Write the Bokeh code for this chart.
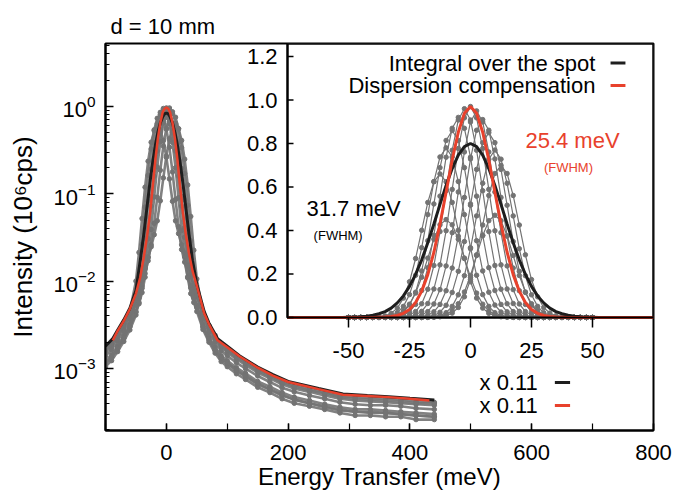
import math
from bokeh.plotting import figure
from bokeh.models import Range1d, LinearScale, Label, SingleIntervalTicker, LogTicker
from bokeh.core.properties import value
from bokeh.embed import file_html
from bokeh.resources import INLINE

FONT = "Liberation Sans"
GRAY = "#737373"
RED = "#e8412c"
BLACK = "#1e1e1e"

# ---------------- main panel data (log scale) ----------------
main_x_ticks_interval = 200
E_gray = [-100, -90, -80, -70, -60, -50, -45, -40, -35, -30, -25, -20, -15, -10, -5, 0, 5, 10,
          15, 20, 25, 30, 35, 40, 45, 50, 60, 70, 80, 90, 100, 115, 130, 150, 170, 190, 210,
          235, 260, 285, 310, 335, 360, 385, 410, 440]
mg1 = [1.66e-3, 1.95e-3, 2.47e-3, 3.23e-3, 4.5e-3, .0100, .0213, .052, .119, .236, .389, .527, .586,
       .536, .407, .261, .148, .082, .049, .035, .026, .021, .0152, .0114, .0090, .0071, .0044, .0031,
       .0024, .0019, 1.66e-3, 1.38e-3, 1.19e-3, 9.7e-4, 8.4e-4, 7.1e-4, 6.4e-4, 5.8e-4, 5.3e-4,
       4.8e-4, 4.7e-4, 4.6e-4, 4.5e-4, 4.4e-4, 4.2e-4, 4.1e-4]
mg2 = [1.23e-3, 1.44e-3, 1.82e-3, 2.38e-3, 3.22e-3, .0059, .0109, .0264, .070, .163, .326, .539, .731,
       .809, .735, .548, .340, .178, .086, .042, .023, .0165, .0112, .0084, .0067, .0053, .0032, .0023,
       .00175, .0014, 1.23e-3, 1.02e-3, 8.8e-4, 7.1e-4, 6.2e-4, 5.3e-4, 4.7e-4, 4.3e-4, 3.9e-4,
       3.6e-4, 3.4e-4, 3.4e-4, 3.3e-4, 3.2e-4, 3.1e-4, 3.0e-4]
mg3 = [1.05e-3, 1.23e-3, 1.56e-3, 2.04e-3, 2.76e-3, .0041, .0064, .0124, .031, .082, .191, .383, .632,
       .855, .947, .858, .636, .388, .199, .090, .038, .019, .0109, .0072, .0057, .0045, .0028, .0020,
       .0015, .0012, 1.05e-3, 8.7e-4, 7.5e-4, 6.1e-4, 5.3e-4, 4.5e-4, 4.0e-4, 3.7e-4, 3.4e-4,
       3.1e-4, 2.9e-4, 2.9e-4, 2.8e-4, 2.8e-4, 2.6e-4, 2.6e-4]
mg4 = [1.54e-3, 1.80e-3, 2.29e-3, 2.99e-3, 4.05e-3, .0060, .0077, .011, .019, .040, .093, .205, .396,
       .646, .870, .960, .870, .646, .396, .205, .093, .041, .020, .012, .0086, .0066, .0040, .0029,
       .0022, .00176, 1.54e-3, 1.28e-3, 1.10e-3, 9.0e-4, 7.7e-4, 6.6e-4, 5.9e-4, 5.4e-4, 4.9e-4,
       4.5e-4, 4.3e-4, 4.2e-4, 4.1e-4, 4.0e-4, 3.9e-4, 3.8e-4]
mg5 = [1.14e-3, 1.33e-3, 1.69e-3, 2.21e-3, 2.99e-3, .0044, .0055, .0074, .0111, .0189, .039, .092, .203,
       .394, .645, .869, .959, .866, .641, .389, .195, .085, .033, .0137, .0075, .0051, .0030, .0021,
       .0016, .0013, 1.14e-3, 9.4e-4, 8.1e-4, 6.6e-4, 5.7e-4, 4.9e-4, 4.4e-4, 4.0e-4, 3.6e-4,
       3.3e-4, 3.2e-4, 3.1e-4, 3.1e-4, 3.0e-4, 2.9e-4, 2.8e-4]
mg6 = [1.40e-3, 1.64e-3, 2.08e-3, 2.72e-3, 3.68e-3, .0054, .0068, .0088, .0122, .0171, .026, .046, .091,
       .186, .352, .567, .758, .834, .752, .556, .337, .171, .074, .029, .0126, .0071, .0037, .0026,
       .0020, .0016, 1.40e-3, 1.16e-3, 1.0e-3, 8.2e-4, 7.0e-4, 6.0e-4, 5.4e-4, 4.9e-4, 4.5e-4,
       4.1e-4, 3.9e-4, 3.8e-4, 3.8e-4, 3.7e-4, 3.5e-4, 3.4e-4]
mg7 = [1.61e-3, 1.89e-3, 2.39e-3, 3.13e-3, 4.23e-3, .0063, .0078, .0101, .0138, .0185, .0247, .034, .049,
       .083, .152, .271, .425, .562, .615, .553, .408, .249, .126, .055, .0226, .0106, .0043, .0030,
       .0023, .00184, 1.61e-3, 1.33e-3, 1.15e-3, 9.4e-4, 8.1e-4, 6.9e-4, 6.2e-4, 5.6e-4, 5.2e-4,
       4.7e-4, 4.5e-4, 4.4e-4, 4.3e-4, 4.2e-4, 4.0e-4, 4.0e-4]
mg8 = [1.16e-3, 1.35e-3, 1.72e-3, 2.24e-3, 3.04e-3, .0045, .0057, .0083, .0144, .0305, .072, .159, .309,
       .505, .679, .750, .679, .505, .309, .159, .072, .0318, .0151, .0089, .0064, .0050, .0030, .0022,
       .00165, .00132, 1.16e-3, 9.6e-4, 8.3e-4, 6.7e-4, 5.8e-4, 5.0e-4, 4.4e-4, 4.0e-4, 3.7e-4,
       3.4e-4, 3.2e-4, 3.2e-4, 3.1e-4, 3.0e-4, 2.9e-4, 2.8e-4]
main_gray = [mg1, mg2, mg3, mg4, mg5, mg6, mg7, mg8]

E_black = [-100, -88, -80, -70, -60, -50, -43, -37, -32, -27, -22, -18, -14, -10, -6, -3, 0, 3, 6, 10,
           14, 18, 22, 27, 32, 37, 43, 50, 62, 70, 84, 100, 120, 150, 175, 200, 250, 290, 330, 365,
           400, 440]
I_black = [1.8e-3, 2.2e-3, 2.75e-3, 3.6e-3, 4.9e-3, 7.8e-3, .017, .035, .069, .135, .242, .362, .504,
           .647, .764, .82, .84, .82, .764, .647, .504, .362, .242, .135, .069, .035, .017, .0092,
           4.5e-3, 3.3e-3, 2.2e-3, 1.8e-3, 1.4e-3, 1.04e-3, 8.5e-4, 7.1e-4, 5.9e-4, 5.1e-4, 4.9e-4,
           4.75e-4, 4.55e-4, 4.35e-4]
E_red = [-88, -80, -70, -60, -50, -43, -37, -32, -27, -22, -18, -14, -10, -6, -3, 0, 3, 6, 10, 14, 18,
         22, 27, 32, 37, 43, 50, 62, 70, 84, 100, 120, 150, 175, 200, 250, 290, 330, 365, 400, 432]
I_red = [2.1e-3, 2.7e-3, 3.5e-3, 4.8e-3, 7.2e-3, .011, .019, .032, .058, .13, .25, .43, .65, .86, .94,
         .97, .94, .86, .65, .43, .25, .13, .062, .034, .021, .013, .0088, 4.3e-3, 3.2e-3, 2.1e-3,
         1.75e-3, 1.38e-3, 1.02e-3, 8.3e-4, 7.0e-4, 5.8e-4, 5.0e-4, 4.85e-4, 4.7e-4, 4.5e-4, 4.3e-4]

# ---------------- inset data (linear scale) ----------------
E_in = [-50, -47.5, -45, -42.5, -40, -37.5, -35, -32.5, -30, -27.5, -25, -22.5, -20, -17.5, -15, -12.5,
        -10, -7.5, -5, -2.5, 0, 2.5, 5, 7.5, 10, 12.5, 15, 17.5, 20, 22.5, 25, 27.5, 30, 32.5, 35,
        37.5, 40, 42.5, 45, 47.5, 50]
ig_a = [0, 0, 0, 0, .001, .003, .007, .019, .043, .089, .164, .271, .401, .529, .624, .660, .624, .529,
        .401, .271, .164, .089, .043, .019, .007, .003, .001, 0, 0, 0, 0, 0, 0, 0, 0, 0, 0, 0, 0, 0, 0]
ig_b = [0, 0, 0, 0, 0, .001, .003, .009, .022, .051, .105, .194, .321, .473, .625, .738, .780, .738, .625,
        .473, .321, .194, .105, .051, .022, .009, .003, .001, 0, 0, 0, 0, 0, 0, 0, 0, 0, 0, 0, 0, 0]
ig_c = [0, 0, 0, 0, 0, 0, .001, .003, .010, .025, .057, .116, .214, .353, .522, .689, .814, .860, .814,
        .689, .522, .353, .214, .116, .057, .025, .010, .003, .001, 0, 0, 0, 0, 0, 0, 0, 0, 0, 0, 0, 0]
ig_d = [0, 0, 0, 0, 0, 0, 0, .001, .004, .010, .026, .060, .124, .229, .378, .558, .737, .870, .920, .870,
        .737, .558, .378, .229, .124, .060, .026, .010, .004, .001, 0, 0, 0, 0, 0, 0, 0, 0, 0, 0, 0]
ig_e = [0, 0, 0, 0, 0, 0, 0, 0, .001, .004, .011, .027, .063, .130, .239, .395, .583, .769, .908, .960,
        .908, .769, .583, .395, .239, .130, .063, .027, .011, .004, .001, 0, 0, 0, 0, 0, 0, 0, 0, 0, 0]
ig_f = [0, 0, 0, 0, 0, 0, 0, 0, 0, .001, .004, .011, .028, .064, .131, .242, .399, .589, .777, .918,
        .970, .918, .777, .589, .399, .242, .131, .064, .028, .011, .004, .001, 0, 0, 0, 0, 0, 0, 0, 0, 0]
ig_g = [0, 0, 0, 0, 0, 0, 0, 0, 0, 0, .001, .004, .011, .027, .062, .128, .237, .390, .577, .761, .899,
        .950, .899, .761, .577, .390, .237, .128, .062, .027, .011, .004, .001, 0, 0, 0, 0, 0, 0, 0, 0]
ig_h = [0, 0, 0, 0, 0, 0, 0, 0, 0, 0, 0, .001, .004, .010, .026, .060, .123, .227, .374, .552, .729, .861,
        .910, .861, .729, .552, .374, .227, .123, .060, .026, .010, .004, .001, 0, 0, 0, 0, 0, 0, 0]
ig_i = [0, 0, 0, 0, 0, 0, 0, 0, 0, 0, 0, 0, .001, .003, .009, .024, .056, .115, .212, .349, .516, .681,
        .804, .850, .804, .681, .516, .349, .212, .115, .056, .024, .009, .003, .001, 0, 0, 0, 0, 0, 0]
ig_j = [0, 0, 0, 0, 0, 0, 0, 0, 0, 0, 0, 0, 0, .001, .003, .009, .022, .051, .104, .192, .316, .467, .617,
        .728, .770, .728, .617, .467, .316, .192, .104, .051, .022, .009, .003, .001, 0, 0, 0, 0, 0]
ig_k = [0, 0, 0, 0, 0, 0, 0, 0, 0, 0, 0, 0, 0, 0, .001, .003, .008, .020, .046, .095, .174, .288, .425,
        .561, .662, .700, .662, .561, .425, .288, .174, .095, .046, .020, .008, .003, .001, 0, 0, 0, 0]
ig_l = [0, 0, 0, 0, 0, .001, .002, .005, .013, .030, .061, .112, .185, .273, .360, .426, .450, .426, .360,
        .273, .185, .112, .061, .030, .013, .005, .002, .001, 0, 0, 0, 0, 0, 0, 0, 0, 0, 0, 0, 0, 0]
ig_m = [0, 0, 0, 0, 0, 0, 0, 0, 0, 0, 0, 0, 0, .001, .002, .005, .013, .031, .063, .117, .193, .285, .376,
        .445, .470, .445, .376, .285, .193, .117, .063, .031, .013, .005, .002, .001, 0, 0, 0, 0, 0]
inset_gray = [ig_a, ig_b, ig_c, ig_d, ig_e, ig_f, ig_g, ig_h, ig_i, ig_j, ig_k, ig_l, ig_m]

E_in2 = [-75, -72.5, -70, -67.5, -65, -62.5, -60, -57.5, -55, -52.5, -50, -47.5, -45, -42.5, -40, -37.5,
         -35, -32.5, -30, -27.5, -25, -22.5, -20, -17.5, -15, -12.5, -10, -7.5, -5, -2.5, 0, 2.5, 5,
         7.5, 10, 12.5, 15, 17.5, 20, 22.5, 25, 27.5, 30, 32.5, 35, 37.5, 40, 42.5, 45, 47.5, 50, 52.5,
         55, 57.5, 60, 62.5, 65, 67.5, 70, 72.5, 75]
in_black = [0, 0, 0, 0, 0, 0, 0, 0, 0, 0, .001, .002, .003, .006, .010, .017, .027, .043, .067, .099,
            .143, .198, .265, .344, .430, .520, .607, .685, .747, .786, .800, .786, .747, .685, .607,
            .520, .430, .344, .265, .198, .143, .099, .067, .043, .027, .017, .010, .006, .003, .002,
            .001, 0, 0, 0, 0, 0, 0, 0, 0, 0, 0]
in_red = [0, 0, 0, 0, 0, 0, 0, 0, 0, 0, 0, 0, 0, 0, 0, .001, .002, .004, .009, .019, .037, .069, .121,
          .197, .300, .430, .576, .724, .852, .939, .970, .939, .852, .724, .576, .430, .300, .197, .121,
          .069, .037, .019, .009, .004, .002, .001, 0, 0, 0, 0, 0, 0, 0, 0, 0, 0, 0, 0, 0, 0, 0]

inset_xlim = [-75, 75]
inset_ylim = [0, 1.26]
inset_xticks = [-50, -25, 0, 25, 50]
inset_xlabels = ["-50", "-25", "0", "25", "50"]
inset_yticks = [0, 0.2, 0.4, 0.6, 0.8, 1.0, 1.2]
inset_ylabels = ["0.0", "0.2", "0.4", "0.6", "0.8", "1.0", "1.2"]

# ---------------- figure ----------------
p = figure(width=675, height=498, x_range=Range1d(-100, 800), y_range=Range1d(1.95e-4, 5.25),
           y_axis_type="log", output_backend="svg", toolbar_location=None,
           min_border_left=105, min_border_right=22, min_border_top=43, min_border_bottom=68)
p.extra_x_ranges = {"ix": Range1d(-149.59, 75)}
p.extra_y_ranges = {"iy": Range1d(-0.52, 1.26)}
p.extra_x_scales = {"ix": LinearScale()}
p.extra_y_scales = {"iy": LinearScale()}

p.title.text = "d = 10 mm"
p.title.text_font = FONT
p.title.text_font_size = "22px"
p.title.text_font_style = "normal"
p.title.text_color = "black"
p.title.align = "left"
p.title.offset = 5

p.xgrid.visible = False
p.ygrid.visible = False
p.outline_line_color = "black"
p.outline_line_width = 2
p.background_fill_color = "white"
p.border_fill_color = "white"

p.xaxis.ticker = SingleIntervalTicker(interval=main_x_ticks_interval, num_minor_ticks=2)
p.yaxis.ticker = LogTicker(num_minor_ticks=10)
for ax in (p.xaxis[0], p.yaxis[0]):
    ax.axis_line_width = 2
    ax.major_tick_line_width = 1.5
    ax.minor_tick_line_width = 1.2
    ax.major_label_text_font = FONT
    ax.major_label_text_font_size = "22px"
    ax.major_label_text_color = "black"
    ax.axis_label_text_font = FONT
    ax.axis_label_text_font_style = "normal"
    ax.axis_label_text_color = "black"
p.xaxis.axis_label_text_font_size = "24px"
p.yaxis.axis_label_text_font_size = "26px"
p.xaxis.major_tick_in = 7
p.xaxis.major_tick_out = 0
p.xaxis.minor_tick_in = 7
p.xaxis.minor_tick_out = 0
p.yaxis.major_tick_in = 8
p.yaxis.major_tick_out = 0
p.yaxis.minor_tick_in = 4
p.yaxis.minor_tick_out = 0
p.xaxis.major_label_standoff = 14
p.yaxis.major_label_standoff = 10
p.xaxis.axis_label = "Energy Transfer (meV)"
p.yaxis.axis_label = "Intensity (10\u2076cps)"
p.xaxis.axis_label_standoff = 0
p.yaxis.axis_label_standoff = 12

# main curves
for ys in main_gray:
    p.line(E_gray, ys, line_color=GRAY, line_width=2.6, line_alpha=0.9)
    p.scatter(E_gray, ys, size=4.5, fill_color=GRAY, line_color=GRAY)
p.line(E_black, I_black, line_color=BLACK, line_width=3)
p.line(E_red, I_red, line_color=RED, line_width=2.5)

# main legend
p.add_layout(Label(x=610, y=6.92e-4, text="x 0.11", text_align="right", text_baseline="middle",
                   text_font=FONT, text_font_size="22px", text_color="black"))
p.add_layout(Label(x=610, y=3.78e-4, text="x 0.11", text_align="right", text_baseline="middle",
                   text_font=FONT, text_font_size="22px", text_color="black"))
p.segment(x0=[638], x1=[663], y0=[6.92e-4], y1=[6.92e-4], line_color=BLACK, line_width=3)
p.segment(x0=[638], x1=[663], y0=[3.78e-4], y1=[3.78e-4], line_color=RED, line_width=3)

# ---------------- inset ----------------
R = dict(x_range_name="ix", y_range_name="iy")
p.quad(left=[inset_xlim[0]], right=[inset_xlim[1]], bottom=[inset_ylim[0]], top=[inset_ylim[1]],
       fill_color="white", line_color="black", line_width=2, **R)
for ys in inset_gray:
    p.line(E_in, ys, line_color=GRAY, line_width=1.2, **R)
    p.scatter(E_in, ys, size=4.5, fill_color=GRAY, line_color=GRAY, **R)
p.line(E_in2, in_black, line_color=BLACK, line_width=3, **R)
p.line(E_in2, in_red, line_color=RED, line_width=3, **R)
p.quad(left=[inset_xlim[0]], right=[inset_xlim[1]], bottom=[inset_ylim[0]], top=[inset_ylim[1]],
       fill_color=None, line_color="black", line_width=2, **R)

p.ray(x=[inset_xlim[0]] * len(inset_yticks), y=inset_yticks, length=6, length_units="screen",
      angle=0, line_color="black", line_width=1.5, **R)
p.ray(x=inset_xticks, y=[inset_ylim[0]] * len(inset_xticks), length=10, length_units="screen",
      angle=-math.pi / 2, line_color="black", line_width=1.5, **R)
p.text(x=[inset_xlim[0]] * len(inset_yticks), y=inset_yticks, text=inset_ylabels, x_offset=-10,
       text_align="right", text_baseline="middle", text_font=value(FONT), text_font_size="22px",
       text_color="black", **R)
p.text(x=inset_xticks, y=[inset_ylim[0]] * len(inset_xticks), text=inset_xlabels, y_offset=33,
       text_align="center", text_baseline="middle", text_font=value(FONT), text_font_size="22px",
       text_color="black", **R)

# inset legend
p.add_layout(Label(x=51.2, y=1.168, text="Integral over the spot", text_align="right",
                   text_baseline="middle", text_font=FONT, text_font_size="22px", text_color="black", **R))
p.add_layout(Label(x=51.2, y=1.067, text="Dispersion compensation", text_align="right",
                   text_baseline="middle", text_font=FONT, text_font_size="22px", text_color="black", **R))
p.segment(x0=[57.4], x1=[63.5], y0=[1.17], y1=[1.17], line_color=BLACK, line_width=3, **R)
p.segment(x0=[57.4], x1=[63.5], y0=[1.067], y1=[1.067], line_color=RED, line_width=3, **R)

# FWHM annotations
p.add_layout(Label(x=-67.2, y=0.499, text="31.7 meV", text_align="left", text_baseline="middle",
                   text_font=FONT, text_font_size="22px", text_color="black", **R))
p.add_layout(Label(x=-64.3, y=0.377, text="(FWHM)", text_align="left", text_baseline="middle",
                   text_font=FONT, text_font_size="13px", text_color="black", **R))
p.add_layout(Label(x=22.5, y=0.814, text="25.4 meV", text_align="left", text_baseline="middle",
                   text_font=FONT, text_font_size="22px", text_color=RED, **R))
p.add_layout(Label(x=30.1, y=0.691, text="(FWHM)", text_align="left", text_baseline="middle",
                   text_font=FONT, text_font_size="13px", text_color=RED, **R))

open("out.html", "w").write(file_html(p, INLINE))
